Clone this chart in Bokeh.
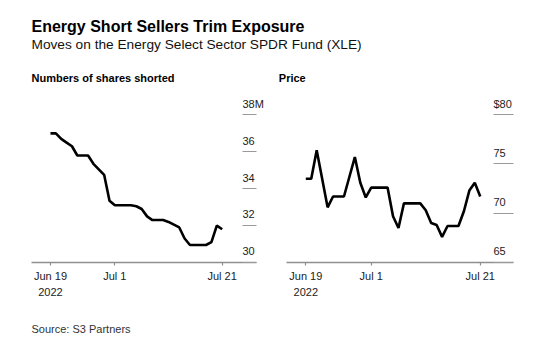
import pandas as pd
from bokeh.plotting import figure
from bokeh.models import Range1d, FixedTicker, Label, ColumnDataSource
from bokeh.layouts import column, row
from bokeh.embed import file_html
from bokeh.resources import INLINE

# ---- data ----
dates = pd.date_range("2022-06-19", "2022-07-21", freq="D")
shares_shorted_m = [37.0, 37.0, 36.7, 36.5, 36.3, 35.8, 35.8, 35.8, 35.35, 35.05,
                    34.75, 33.35, 33.1, 33.1, 33.1, 33.1, 33.05, 32.9, 32.5, 32.3,
                    32.3, 32.3, 32.2, 32.05, 31.9, 31.3, 30.95, 30.95, 30.95, 30.95,
                    31.1, 32.0, 31.8]
price = [73.5, 73.5, 76.4, 73.5, 70.6, 71.7, 71.7, 71.7, 73.7, 75.7,
         73.1, 71.6, 72.6, 72.6, 72.6, 72.6, 69.7, 68.5, 71.0, 71.0,
         71.0, 71.0, 70.3, 69.0, 68.8, 67.6, 68.7, 68.7, 68.7, 70.2,
         72.3, 73.1, 71.7]
x_tick_dates = ["2022-06-19", "2022-07-01", "2022-07-21"]
x_tick_labels = ["Jun 19\n2022", "Jul 1", "Jul 21"]
shares_ticks = [30, 32, 34, 36, 38]
shares_labels = ["30", "32", "34", "36", "38M"]
price_ticks = [65, 70, 75, 80]
price_labels = ["65", "70", "75", "$80"]

title = "Energy Short Sellers Trim Exposure"
subtitle = "Moves on the Energy Select Sector SPDR Fund (XLE)"
left_title = "Numbers of shares shorted"
right_title = "Price"
source_text = "Source: S3 Partners"

FONT = "Liberation Sans"
DAY = 86400000.0

def ms(d):
    return pd.Timestamp(d).value / 1e6

tick_ms = [ms(d) for d in x_tick_dates]
x0 = ms(dates[0])
x1 = ms(dates[-1])


def panel(width, bl, br, yvals, yr, yticks, ylabels, tick_len, pad_r):
    p = figure(width=width, height=217, x_axis_type="datetime",
               x_range=Range1d(x0 - 3.54 * DAY, x1 + pad_r * DAY),
               y_range=Range1d(*yr), y_axis_location="right",
               toolbar_location=None, output_backend="svg",
               min_border_left=bl, min_border_right=br,
               min_border_top=12, min_border_bottom=43)
    p.outline_line_color = None
    p.grid.visible = False
    p.background_fill_color = "white"
    p.border_fill_color = "white"
    src = ColumnDataSource(dict(x=list(dates), y=yvals))
    p.line("x", "y", source=src, line_color="black", line_width=2.6)

    xa = p.xaxis[0]
    xa.ticker = FixedTicker(ticks=tick_ms)
    xa.major_label_overrides = {t: l for t, l in zip(tick_ms, x_tick_labels)}
    xa.axis_line_color = "#8f8f8f"
    xa.axis_line_width = 1.5
    xa.major_tick_line_color = "#8f8f8f"
    xa.major_tick_line_width = 1.2
    xa.major_tick_in = 0
    xa.major_tick_out = 3
    xa.minor_tick_line_color = None
    xa.major_label_standoff = 4
    xa.major_label_text_font = FONT
    xa.major_label_text_font_size = "11px"
    xa.major_label_text_color = "#222222"
    xa.major_label_text_line_height = 1.35

    ya = p.yaxis[0]
    ya.ticker = FixedTicker(ticks=yticks)
    # a blank second line lifts each label above its tick line
    ya.major_label_overrides = {float(t): l + "\n " for t, l in zip(yticks, ylabels)}
    ya.axis_line_color = None
    ya.major_tick_line_color = "#9a9a9a"
    ya.major_tick_line_width = 1.2
    ya.major_tick_in = tick_len
    ya.major_tick_out = 0
    ya.minor_tick_line_color = None
    ya.major_label_standoff = -tick_len
    ya.major_label_text_font = FONT
    ya.major_label_text_font_size = "11px"
    ya.major_label_text_color = "#222222"
    ya.major_label_text_line_height = 1.85
    return p


p1 = panel(268, 31, 12, shares_shorted_m, (30, 38.78), shares_ticks, shares_labels, 14, 6.4)
p2 = panel(269, 18, 24, price, (65, 81.44), price_ticks, price_labels, 20, 6.1)


def blank(h):
    f = figure(width=537, height=h, x_range=Range1d(0, 1), y_range=Range1d(0, 1),
               toolbar_location=None, output_backend="svg",
               min_border=0, min_border_left=0, min_border_right=0,
               min_border_top=0, min_border_bottom=0)
    f.axis.visible = False
    f.grid.visible = False
    f.outline_line_color = None
    f.background_fill_color = "white"
    f.border_fill_color = "white"
    return f


header = blank(88)
header.add_layout(Label(x=31, y=62.5, x_units="screen", y_units="screen", text=title,
                        text_font=FONT, text_font_size="16px", text_font_style="bold",
                        text_color="black", text_baseline="alphabetic"))
header.add_layout(Label(x=31, y=44, x_units="screen", y_units="screen", text=subtitle,
                        text_font=FONT, text_font_size="13.7px",
                        text_color="#111111", text_baseline="alphabetic"))
header.add_layout(Label(x=31, y=11, x_units="screen", y_units="screen", text=left_title,
                        text_font=FONT, text_font_size="11px", text_font_style="bold",
                        text_color="black", text_baseline="alphabetic"))
header.add_layout(Label(x=278.3, y=11, x_units="screen", y_units="screen", text=right_title,
                        text_font=FONT, text_font_size="11px", text_font_style="bold",
                        text_color="black", text_baseline="alphabetic"))

footer = blank(49)
footer.add_layout(Label(x=31, y=25.5, x_units="screen", y_units="screen", text=source_text,
                        text_font=FONT, text_font_size="11px",
                        text_color="#333333", text_baseline="alphabetic"))

layout = column(header, row(p1, p2), footer)
open("out.html", "w").write(file_html(layout, INLINE))
